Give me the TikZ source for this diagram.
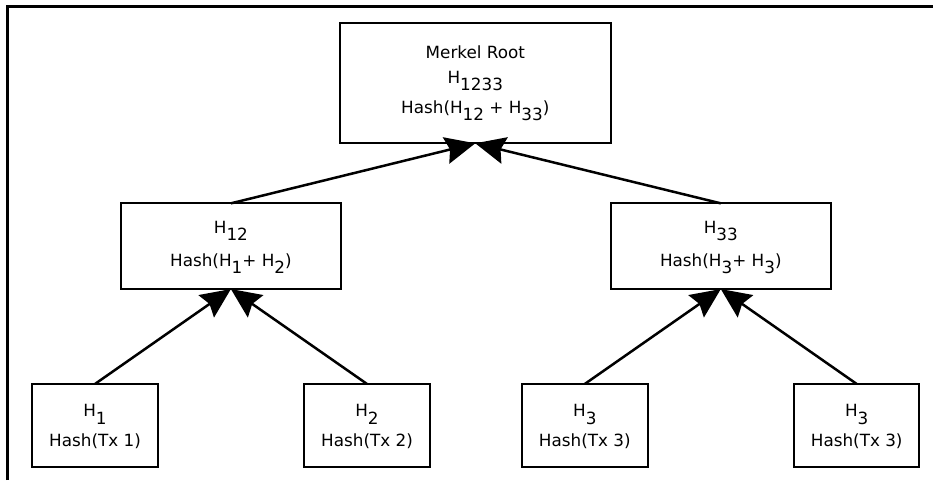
\documentclass[tikz,border=0pt]{standalone}
\usepackage{fontspec}
\setmainfont{DejaVu Sans}
\usetikzlibrary{arrows.meta}
\newcommand\lowsub[1]{\raisebox{-0.44em}{#1}}
\tikzset{
  hbox/.style={draw=black, line width=2pt, fill=white, inner sep=0pt, outer sep=0pt},
  rootbox/.style={hbox, minimum width=270.7pt, minimum height=120.6pt},
  midbox/.style={hbox, minimum width=219.7pt, minimum height=85.7pt},
  leafbox/.style={hbox, minimum width=125.4pt, minimum height=82.7pt},
  txt/.style={anchor=base, inner sep=0pt, font=\fontsize{16.8pt}{20pt}\selectfont, text=black},
  arr/.style={line width=2.5pt, -{Stealth[length=30pt, width=27pt, inset=4pt]}},
  frame/.style={line width=3pt}
}
\begin{document}
\begin{tikzpicture}[x=1pt, y=1pt]
\useasboundingbox (0,0) rectangle (933,480);
\draw[frame] (7.5,0) -- (7.5,473) -- (933,473);

% boxes
\node[rootbox] (root) at (475.3,397) {};
\node[midbox] (h12) at (230.9,233.8) {};
\node[midbox] (h33) at (720.8,233.8) {};
\node[leafbox] (h1) at (95,54.7) {};
\node[leafbox] (h2) at (367,54.7) {};
\node[leafbox] (h3) at (584.8,54.7) {};
\node[leafbox] (h3b) at (856.7,54.7) {};

% texts
\node[txt] (roota) at (475.3,421.7) {Merkel Root};
\node[txt] (rootb) at (475.3,396.7) {H\lowsub{1233}};
\node[txt] (rootc) at (475.3,366.7) {Hash(H\lowsub{12} + H\lowsub{33})};

\node[txt] (h12a) at (230.9,246.7) {H\lowsub{12}};
\node[txt] (h12b) at (230.9,214) {Hash(H\lowsub{1}+ H\lowsub{2})};
\node[txt] (h33a) at (720.8,246.7) {H\lowsub{33}};
\node[txt] (h33b) at (720.8,214) {Hash(H\lowsub{3}+ H\lowsub{3})};

\node[txt] (h1a) at (95,63.3) {H\lowsub{1}};
\node[txt] (h1b) at (95,34) {Hash(Tx 1)};
\node[txt] (h2a) at (367,63.3) {H\lowsub{2}};
\node[txt] (h2b) at (367,34) {Hash(Tx 2)};
\node[txt] (h3a) at (584.8,63.3) {H\lowsub{3}};
\node[txt] (h3b1) at (584.8,34) {Hash(Tx 3)};
\node[txt] (h3ba) at (856.7,63.3) {H\lowsub{3}};
\node[txt] (h3bb) at (856.7,34) {Hash(Tx 3)};

% connectors
\draw[arr] (h12.north) -- (root.south);
\draw[arr] (h33.north) -- (root.south);
\draw[arr] (h1.north) -- (h12.south);
\draw[arr] (h2.north) -- (h12.south);
\draw[arr] (h3.north) -- (h33.south);
\draw[arr] (h3b.north) -- (h33.south);
\end{tikzpicture}
\end{document}
